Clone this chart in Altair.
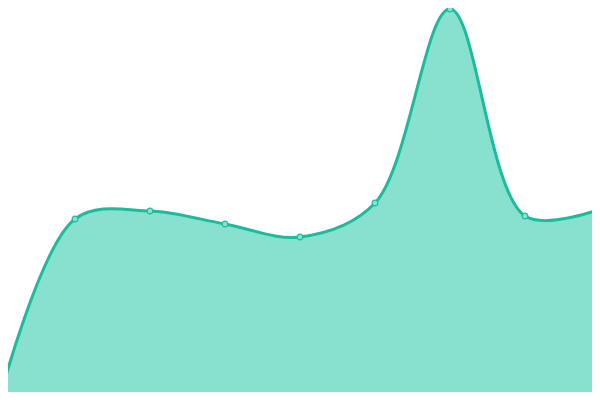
import altair as alt
import pandas as pd

idx = [0, 1, 2, 3, 4, 5, 6, 7, 8]
values = [3, 181, 189, 176, 163, 197, 391, 184, 191]

df = pd.DataFrame({"i": idx, "v": values})

W, H = 584, 384
x = alt.X("i:Q", axis=None,
          scale=alt.Scale(domain=[8 / 75, 592 / 75], nice=False, zero=False))
y = alt.Y("v:Q", axis=None,
          scale=alt.Scale(domain=[392 - H, 392], nice=False, zero=False))

area = alt.Chart(df).mark_area(
    interpolate="catmull-rom",
    color="#88e0cf",
    opacity=1,
    fillOpacity=1,
    clip=True,
    line={"color": "#1abc9c", "strokeWidth": 3},
).encode(x=x, y=y)

pts = alt.Chart(df).mark_point(
    filled=True, size=34, fill="#88e0cf", stroke="#1abc9c",
    strokeWidth=1.2, opacity=1
).encode(x=x, y=y)

chart = (area + pts).properties(
    width=W, height=H, autosize=alt.AutoSizeParams(type="none"), padding=0
).configure_view(stroke=None)

chart.save("out.html", embed_options={"renderer": "svg", "actions": False})
